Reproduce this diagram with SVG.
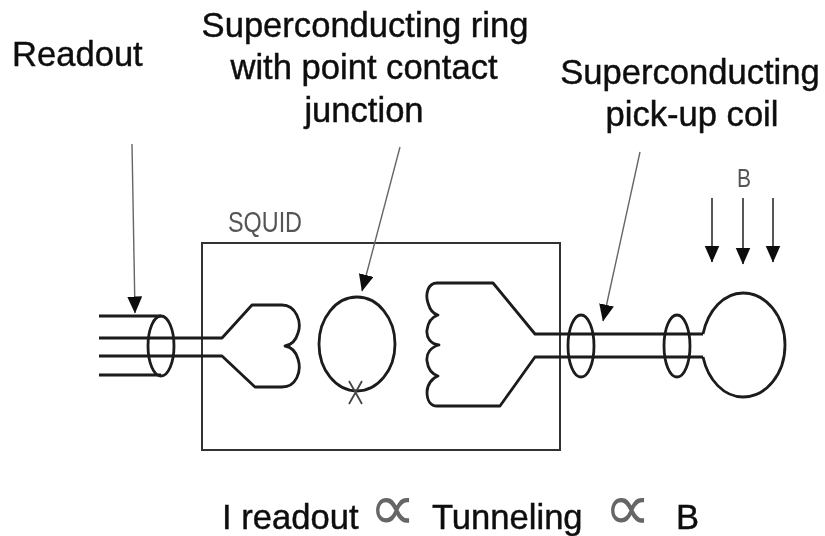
<svg xmlns="http://www.w3.org/2000/svg" width="825" height="536" viewBox="0 0 825 536">
<style>
.lbl{font-family:"Liberation Sans",Arial,sans-serif;font-size:34.6px;fill:#111;stroke:#111;stroke-width:.45}
.thin{font-family:"Liberation Sans",Arial,sans-serif;fill:#555}
.sym{font-family:"DejaVu Sans",sans-serif;font-weight:200;font-size:66px;fill:#666}
.w{fill:none;stroke:#1a1a1a;stroke-width:2.8;stroke-linejoin:round}
.box{fill:none;stroke:#333;stroke-width:2}
.lead{fill:none;stroke:#666;stroke-width:1.4}
.lead2{fill:none;stroke:#444;stroke-width:1.8}
.soft{filter:url(#s)}
</style>
<defs>
<filter id="s" x="-5%" y="-5%" width="110%" height="110%"><feGaussianBlur stdDeviation="0.6"/></filter>
<marker id="a" markerUnits="userSpaceOnUse" markerWidth="17" markerHeight="16" refX="16.5" refY="7.5" orient="auto"><path d="M0,0L17,7.5L0,15z" fill="#111"/></marker>
</defs>
<rect width="825" height="536" fill="#fff"/>
<g class="soft">
<g id="labels">
<text class="lbl" x="12" y="66">Readout</text>
<text class="lbl" x="365" y="37" text-anchor="middle">Superconducting ring</text>
<text class="lbl" x="364" y="79" text-anchor="middle">with point contact</text>
<text class="lbl" x="364" y="122" text-anchor="middle">junction</text>
<text class="lbl" x="690" y="84" text-anchor="middle">Superconducting</text>
<text class="lbl" x="692" y="126" text-anchor="middle">pick-up coil</text>
<text class="thin" x="228" y="232" font-size="30" textLength="74" lengthAdjust="spacingAndGlyphs">SQUID</text>
<text class="thin" x="737" y="187" font-size="26" textLength="14" lengthAdjust="spacingAndGlyphs">B</text>
<text class="lbl" x="222" y="529">I readout</text>
<text class="sym" x="369" y="530">∝</text>
<text class="lbl" x="432" y="529">Tunneling</text>
<text class="sym" x="604" y="530">∝</text>
<text class="lbl" x="676" y="529">B</text>
</g>
<g id="squid"><rect class="box" x="202" y="243" width="358" height="207"/></g>
<g id="readout-cable">
<path class="w" d="M99,316H161M99,375H161"/>
<ellipse class="w" cx="161" cy="346" rx="13" ry="30"/>
</g>
<g id="input-coil">
<path class="w" d="M99,338H222L252,305H282C296,305 302,322 298,333C296,340 291,345 285,346C291,347 296,352 298,359C302,372 296,387 282,387H255L222,356H99"/>
</g>
<g id="ring">
<ellipse class="w" cx="357" cy="344" rx="38" ry="47"/>
<path class="lead2" d="M349,381L362,404M362,381L349,404"/>
</g>
<g id="pickup-coil">
<path class="w" d="M703,334H535L493,283H437C428,283 425,294 428,303C430,310 433,314 438,315C432,317 428,322 427,330C426,338 431,344 439,345C431,347 426,353 427,361C428,369 432,374 438,376C432,378 427,385 427,392C427,401 431,406 437,406H500L535,357H703"/>
<path class="w" d="M703,334C708,310 724,293 743,293C766,293 785,316 785,345C785,374 766,397 743,397C724,397 708,380 703,357"/>
</g>
<g id="clamps">
<ellipse class="w" cx="581" cy="346" rx="13" ry="31"/>
<ellipse class="w" cx="677" cy="346" rx="13" ry="31"/>
</g>
<g id="connectors">
<path class="lead" d="M132,144L135,313" marker-end="url(#a)"/>
<path class="lead" d="M400,147L362,291" marker-end="url(#a)"/>
<path class="lead" d="M640,152L603,321" marker-end="url(#a)"/>
<path class="lead2" d="M712,198V262" marker-end="url(#a)"/>
<path class="lead2" d="M743,198V264" marker-end="url(#a)"/>
<path class="lead2" d="M773,198V262" marker-end="url(#a)"/>
</g>
</g>
</svg>
